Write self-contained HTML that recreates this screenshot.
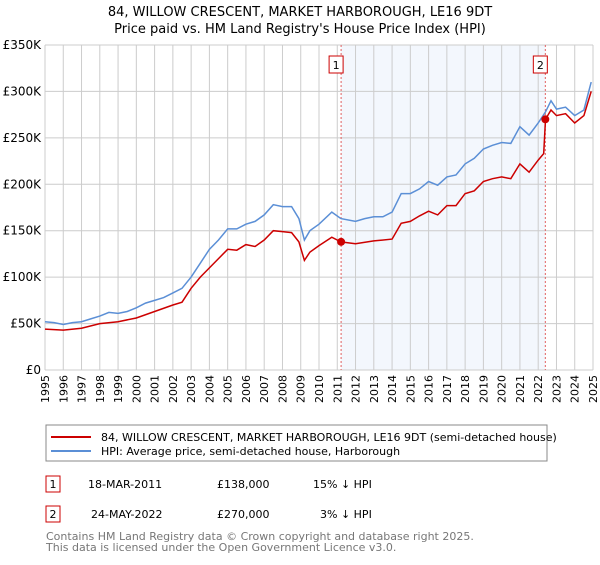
<!DOCTYPE html>
<html><head><meta charset="utf-8"><style>
body{margin:0;background:#fff;font-family:"Liberation Sans","DejaVu Sans",sans-serif;}
svg text{font-family:"DejaVu Sans","Liberation Sans",sans-serif;}
</style></head><body>
<svg width="600" height="560" xmlns="http://www.w3.org/2000/svg">
<text x="300" y="16" text-anchor="middle" font-size="13" fill="#000">84, WILLOW CRESCENT, MARKET HARBOROUGH, LE16 9DT</text>
<text x="300" y="33" text-anchor="middle" font-size="13" fill="#000">Price paid vs. HM Land Registry's House Price Index (HPI)</text>
<g id="plot"></g>
<g>
<rect x="46" y="425" width="501" height="36" fill="#fff" stroke="#888"/>
<line x1="51" y1="437" x2="91" y2="437" stroke="#cc0000" stroke-width="2"/>
<text x="101" y="441" font-size="11">84, WILLOW CRESCENT, MARKET HARBOROUGH, LE16 9DT (semi-detached house)</text>
<line x1="51" y1="451" x2="91" y2="451" stroke="#5b8fd6" stroke-width="2"/>
<text x="101" y="455" font-size="11">HPI: Average price, semi-detached house, Harborough</text>
</g>
<g font-size="11">
<rect x="46" y="476" width="14" height="16" fill="#fff" stroke="#cc0000"/><text x="53" y="488" text-anchor="middle">1</text>
<text x="88" y="488">18-MAR-2011</text><text x="217" y="488">£138,000</text><text x="313" y="488">15% ↓ HPI</text>
<rect x="46" y="506" width="14" height="16" fill="#fff" stroke="#cc0000"/><text x="53" y="518" text-anchor="middle">2</text>
<text x="91" y="518">24-MAY-2022</text><text x="217" y="518">£270,000</text><text x="320" y="518">3% ↓ HPI</text>
</g>
<text x="46" y="540" font-size="11" fill="#777">Contains HM Land Registry data © Crown copyright and database right 2025.</text>
<text x="46" y="551" font-size="11" fill="#777">This data is licensed under the Open Government Licence v3.0.</text>
</svg>
<script>
const yearTicks=[1995,1996,1997,1998,1999,2000,2001,2002,2003,2004,2005,2006,2007,2008,2009,2010,2011,2012,2013,2014,2015,2016,2017,2018,2019,2020,2021,2022,2023,2024,2025];
const valueTicks=[0,50000,100000,150000,200000,250000,300000,350000];
const valueLabels=["£0","£50K","£100K","£150K","£200K","£250K","£300K","£350K"];
const hpiT=[1995,1995.5,1996,1996.5,1997,1997.5,1998,1998.5,1999,1999.5,2000,2000.5,2001,2001.5,2002,2002.5,2003,2003.5,2004,2004.5,2005,2005.5,2006,2006.5,2007,2007.5,2008,2008.5,2008.9,2009.2,2009.5,2010,2010.7,2011.2,2012,2012.5,2013,2013.5,2014,2014.5,2015,2015.5,2016,2016.5,2017,2017.5,2018,2018.5,2019,2019.5,2020,2020.5,2021,2021.5,2022,2022.4,2022.7,2023,2023.5,2024,2024.5,2024.9];
const hpiV=[52,51,49,51,52,55,58,62,61,63,67,72,75,78,83,88,100,115,130,140,152,152,157,160,167,178,176,176,163,140,150,157,170,163,160,163,165,165,170,190,190,195,203,199,208,210,222,228,238,242,245,244,262,253,266,278,290,281,283,274,280,310];
const priceT=[1995,1996,1997,1998,1999,2000,2001,2002,2002.5,2003,2003.5,2004,2004.5,2005,2005.5,2006,2006.5,2007,2007.5,2008,2008.5,2008.9,2009.2,2009.5,2010,2010.7,2011.2,2012,2013,2014,2014.5,2015,2015.5,2016,2016.5,2017,2017.5,2018,2018.5,2019,2019.5,2020,2020.5,2021,2021.5,2022,2022.3,2022.4,2022.7,2023,2023.5,2024,2024.5,2024.9];
const priceV=[44,43,45,50,52,56,63,70,73,88,100,110,120,130,129,135,133,140,150,149,148,138,118,127,134,143,138,136,139,141,158,160,166,171,167,177,177,190,193,203,206,208,206,222,213,226,233,270,280,274,276,266,274,300];
const saleT=[2011.21,2022.39];
const saleV=[138,270];
const saleLabels=["1","2"];
const X0=45,X1=593,Y0=370,Y1=45;
const xs=t=>X0+(t-1995)/30*(X1-X0);
const ys=v=>Y0-v/350000*(Y0-Y1);
const NS="http://www.w3.org/2000/svg";
const g=document.getElementById('plot');
function mk(tag,attrs,parent){const e=document.createElementNS(NS,tag);for(const k in attrs)e.setAttribute(k,attrs[k]);(parent||g).appendChild(e);return e;}
let e=mk('rect',{x:xs(saleT[0]),y:Y1,width:xs(saleT[1])-xs(saleT[0]),height:Y0-Y1,fill:'#eef3fc',opacity:0.7});


yearTicks.forEach(t=>{const l=mk('line',{x1:xs(t),x2:xs(t),y1:Y1,y2:Y0,stroke:'#ccc','stroke-width':1});


const px=xs(t)+4,py=Y0+5;
const tx=mk('text',{x:px,y:py,'font-size':11,'text-anchor':'end'});
tx.setAttribute('transform','rotate(-90 '+px.toFixed(1)+' '+py+')');
tx.style.transformBox='view-box';
tx.textContent=t;

});
valueTicks.forEach((v,i)=>{const l=mk('line',{x1:X0,x2:X1,y1:ys(v),y2:ys(v),stroke:'#ccc','stroke-width':1});


const tx=mk('text',{x:X0-4,y:ys(v)+4,'font-size':12,'text-anchor':'end'});tx.textContent=valueLabels[i];

});
saleT.forEach((t,i)=>{const l=mk('line',{x1:xs(t),x2:xs(t),y1:Y1,y2:Y0,stroke:'#e06060','stroke-width':1,'stroke-dasharray':'2,2'});


const r=mk('rect',{x:xs(t)-12,y:56,width:14,height:17,fill:'#fff',stroke:'#cc0000'});


const tx=mk('text',{x:xs(t)-5,y:69,'font-size':11,'text-anchor':'middle'});tx.textContent=saleLabels[i];

});
const path=(T,V)=>T.map((t,i)=>(i?'L':'M')+xs(t).toFixed(1)+','+ys(V[i]*1000).toFixed(1)).join(' ');
const hp=mk('path',{d:path(hpiT,hpiV),fill:'none',stroke:'#5b8fd6','stroke-width':1.5});


const pp=mk('path',{d:path(priceT,priceV),fill:'none',stroke:'#cc0000','stroke-width':1.5});


saleT.forEach((t,i)=>{const c=mk('circle',{cx:xs(t),cy:ys(saleV[i]*1000),r:4,fill:'#cc0000'});

});
</script>
</body></html>
